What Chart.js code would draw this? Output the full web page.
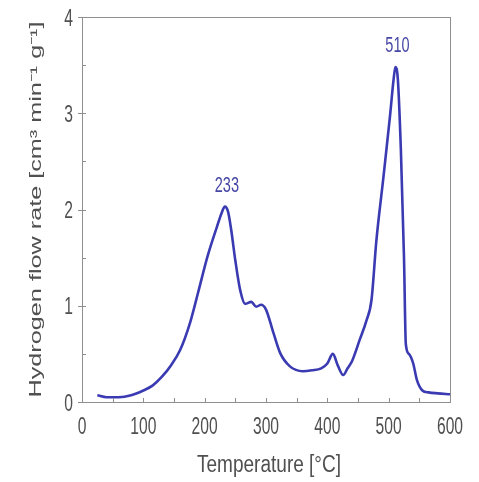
<!DOCTYPE html>
<html>
<head>
<meta charset="utf-8">
<script src="https://cdn.jsdelivr.net/npm/chart.js@4.4.0/dist/chart.umd.min.js"></script>
<style>
    html, body { margin: 0; padding: 0; background: #fff; }
    #wrap { width: 479px; height: 482px; position: relative; }
</style>
</head>
<body>
<div id="wrap"><canvas id="tprChart"></canvas></div>
<script>
// TPR profile: hydrogen consumption vs temperature
const temperature = [25, 40, 60, 80, 100, 115, 130, 145, 160, 176, 189, 205, 220, 228, 233, 238, 243,
    250, 258, 266, 276, 284, 292, 300, 312, 323, 339, 360, 375, 390, 400, 409, 417, 426, 433, 440,
    453, 464, 472, 480, 491, 502, 508, 511, 515, 520, 525, 528, 533, 540, 546, 555, 565, 580, 600];
const flowRate = [0.07, 0.05, 0.05, 0.07, 0.12, 0.17, 0.26, 0.38, 0.54, 0.82, 1.13, 1.52, 1.82, 1.97, 2.03, 1.98, 1.8,
    1.47, 1.16, 1.02, 1.04, 0.99, 1.01, 0.96, 0.72, 0.51, 0.37, 0.32, 0.33, 0.35, 0.40, 0.50, 0.38, 0.28, 0.35, 0.42,
    0.65, 0.85, 1.06, 1.68, 2.31, 2.96, 3.35, 3.48, 3.35, 2.6, 1.5, 0.6, 0.50, 0.40, 0.23, 0.12, 0.10, 0.09, 0.08];
const peakTemps = [233, 511];
const peakLabels = ['233', '510'];
const xTicks = [0, 100, 200, 300, 400, 500, 600];
const yTicks = [0, 1, 2, 3, 4];
const xTitle = 'Temperature [°C]';
const yTitle = 'Hydrogen flow rate [cm³ min⁻¹ g⁻¹]';

const lineColor = '#3a3ab2';
const textGrey = '#505050';
const frameGrey = '#8f8f8f';
const fontFamily = "'Liberation Sans', Arial, sans-serif";

const points = temperature.map((t, i) => ({ x: t, y: flowRate[i] }));

// condensed-looking text: squeeze along the text direction
function squeezedText(ctx, text, x, y, sx, rotate) {
    ctx.save();
    ctx.translate(x, y);
    if (rotate) ctx.rotate(-Math.PI / 2);
    ctx.scale(sx, 1);
    ctx.fillText(text, 0, 0);
    ctx.restore();
}

// frame, ticks, tick labels, axis titles and peak labels
const decorations = {
    id: 'decorations',
    afterDatasetsDraw(chart) {
        const { ctx, chartArea: a, scales: { x, y } } = chart;
        ctx.save();
        ctx.strokeStyle = frameGrey;
        ctx.lineWidth = 1;
        ctx.strokeRect(a.left + 0.5, a.top + 0.5, a.right - a.left, a.bottom - a.top);

        ctx.beginPath();
        for (let v = 50; v < 600; v += 50) {
            const px = Math.round(x.getPixelForValue(v)) + 0.5;
            ctx.moveTo(px, a.bottom);
            ctx.lineTo(px, a.bottom - 4);
        }
        for (let v = 0.5; v < 4; v += 0.5) {
            const py = Math.round(y.getPixelForValue(v)) + 0.5;
            ctx.moveTo(a.left, py);
            ctx.lineTo(a.left + 4, py);
        }
        y.ticks.forEach(t => {
            const py = Math.round(y.getPixelForValue(t.value)) + 0.5;
            ctx.moveTo(a.left - 4, py);
            ctx.lineTo(a.left, py);
        });
        ctx.stroke();

        // tick labels
        ctx.fillStyle = textGrey;
        ctx.font = '23px ' + fontFamily;
        ctx.textBaseline = 'alphabetic';
        ctx.textAlign = 'center';
        x.ticks.forEach(t => {
            squeezedText(ctx, String(t.value), x.getPixelForValue(t.value), a.bottom + 32, 0.68, false);
        });
        ctx.textAlign = 'right';
        y.ticks.forEach(t => {
            squeezedText(ctx, String(t.value), a.left - 9, y.getPixelForValue(t.value) + 8.5, 0.68, false);
        });

        // axis titles
        ctx.textAlign = 'center';
        ctx.font = '23px ' + fontFamily;
        const xs = 144 / ctx.measureText(xTitle).width;
        squeezedText(ctx, xTitle, (a.left + a.right) / 2 + 3, a.bottom + 70, xs, false);
        ctx.font = '16px ' + fontFamily;
        const ys = 376 / ctx.measureText(yTitle).width;
        squeezedText(ctx, yTitle, 41, (a.top + a.bottom) / 2, ys, true);

        // peak labels
        ctx.fillStyle = '#4747a6';
        ctx.font = '22px ' + fontFamily;
        ctx.textBaseline = 'bottom';
        peakTemps.forEach((t, i) => {
            const idx = temperature.indexOf(t);
            const px = x.getPixelForValue(t);
            const py = y.getPixelForValue(flowRate[idx]);
            squeezedText(ctx, peakLabels[i], px + 2, py - 10, 0.66, false);
        });
        ctx.restore();
    }
};

new Chart(document.getElementById('tprChart'), {
    type: 'line',
    data: {
        datasets: [{
            data: points,
            borderColor: lineColor,
            borderWidth: 2.6,
            pointRadius: 0,
            fill: false,
            cubicInterpolationMode: 'monotone'
        }]
    },
    options: {
        responsive: true,
        maintainAspectRatio: false,
        animation: false,
        layout: { padding: { top: 17, right: 29, left: 0, bottom: 0 } },
        plugins: { legend: { display: false }, tooltip: { enabled: false } },
        scales: {
            x: {
                type: 'linear',
                min: 0,
                max: 600,
                afterBuildTicks: s => { s.ticks = xTicks.map(v => ({ value: v })); },
                afterFit: s => { s.height = 80; },
                border: { display: false },
                grid: { display: false },
                ticks: { display: false }
            },
            y: {
                min: 0,
                max: 4,
                afterBuildTicks: s => { s.ticks = yTicks.map(v => ({ value: v })); },
                afterFit: s => { s.width = 82; },
                border: { display: false },
                grid: { display: false },
                ticks: { display: false }
            }
        }
    },
    plugins: [decorations]
});
</script>
</body>
</html>
